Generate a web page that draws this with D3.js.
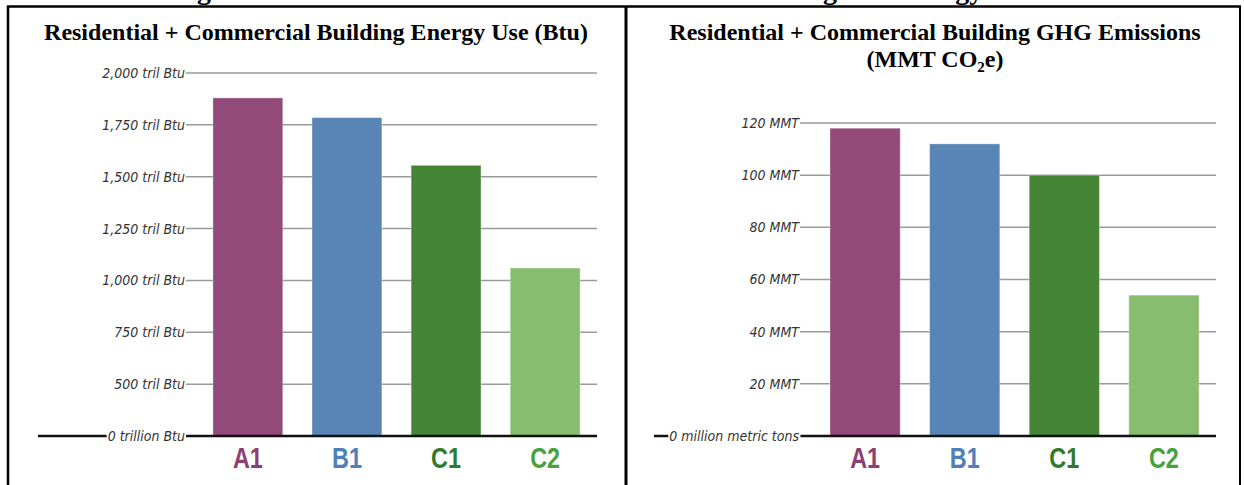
<!DOCTYPE html>
<html><head><meta charset="utf-8">
<script src="https://cdn.jsdelivr.net/npm/d3@7"></script>
<style>
html,body{margin:0;padding:0;background:#fff;}
svg{display:block;}
</style></head>
<body><svg id="c" width="1244" height="485"></svg>
<script>
// ---- data ----
const categories = ["A1", "B1", "C1", "C2"];
const energyValues = [1880, 1785, 1555, 1060];          // trillion Btu
const emissionValues = [118, 112, 100, 54];             // MMT CO2e
const energyTicks = [0, 500, 750, 1000, 1250, 1500, 1750, 2000];
const energyTickLabels = ["0 trillion Btu", "500 tril Btu", "750 tril Btu", "1,000 tril Btu", "1,250 tril Btu", "1,500 tril Btu", "1,750 tril Btu", "2,000 tril Btu"];
const emissionTicks = [0, 20, 40, 60, 80, 100, 120];
const emissionTickLabels = ["0 million metric tons", "20 MMT", "40 MMT", "60 MMT", "80 MMT", "100 MMT", "120 MMT"];
const barColors = ["#924a78", "#5885b6", "#438535", "#88bc6e"];
const labelColors = ["#8d3f73", "#4f80b7", "#2f7a2b", "#48a23c"];
const leftTitle = "Residential + Commercial Building Energy Use (Btu)";
const rightTitle1 = "Residential + Commercial Building GHG Emissions";
const pageHeading = "Figure 6: Scenario Results for the Commercial Building and Energy Sectors";

const svg = d3.select("#c");

// clipped page heading above the frame (cut off in the original too)
svg.append("text").attr("x", 172).attr("y", -1)
  .attr("font-family", "Liberation Serif, serif").attr("font-weight", "bold")
  .attr("font-size", 28).attr("fill", "#000").text(pageHeading);

// frame
const frame = svg.append("g").attr("stroke", "#000").attr("fill", "none");
frame.append("line").attr("x1", 7).attr("x2", 1241).attr("y1", 6.5).attr("y2", 6.5).attr("stroke-width", 2.5);
frame.append("line").attr("x1", 8).attr("x2", 8).attr("y1", 6).attr("y2", 485).attr("stroke-width", 2.5);
frame.append("line").attr("x1", 626).attr("x2", 626).attr("y1", 6).attr("y2", 485).attr("stroke-width", 3);
frame.append("line").attr("x1", 1240).attr("x2", 1240).attr("y1", 6).attr("y2", 485).attr("stroke-width", 2);

function panel(opts) {
  const g = svg.append("g");
  const x = d3.scaleBand().domain(categories).range(opts.xRange)
    .paddingInner(0.295).paddingOuter(0.1475);
  const y = opts.y;

  // gridlines
  g.selectAll("line.grid").data(opts.ticks.slice(1)).join("line")
    .attr("class", "grid")
    .attr("x1", opts.gridLeft).attr("x2", opts.gridRight)
    .attr("y1", d => y(d)).attr("y2", d => y(d))
    .attr("stroke", "#9a9a9a").attr("stroke-width", 1.5);

  // bars
  g.selectAll("rect.bar").data(opts.values).join("rect")
    .attr("class", "bar")
    .attr("x", (d, i) => x(categories[i]))
    .attr("width", x.bandwidth())
    .attr("y", d => y(d))
    .attr("height", d => y(0) - y(d))
    .attr("fill", (d, i) => barColors[i])
    .attr("stroke", "rgba(255,255,255,0.35)").attr("stroke-width", 1);

  // baseline
  g.append("line")
    .attr("x1", opts.baseLeft).attr("x2", opts.gridRight)
    .attr("y1", y(0)).attr("y2", y(0))
    .attr("stroke", "#111").attr("stroke-width", 2.5);

  // tick labels
  const lab = g.selectAll("g.tick").data(opts.ticks).join("g").attr("class", "tick");
  lab.append("text")
    .attr("x", opts.gridLeft - 1).attr("y", d => y(d)).attr("dy", "0.35em")
    .attr("text-anchor", "end")
    .attr("font-family", "DejaVu Sans Condensed, Liberation Sans, sans-serif")
    .attr("font-stretch", "condensed")
    .attr("font-style", "italic").attr("font-size", 14).attr("fill", "#333")
    .text((d, i) => opts.tickLabels[i]);
  // white backing for the zero label
  lab.filter(d => d === 0).each(function () {
    const t = d3.select(this).select("text");
    const bb = t.node().getBBox();
    d3.select(this).insert("rect", "text")
      .attr("x", bb.x - 1).attr("y", bb.y).attr("width", bb.width + 2).attr("height", bb.height)
      .attr("fill", "#fff");
  });

  // category labels (tall, condensed)
  g.selectAll("text.cat").data(categories).join("text")
    .attr("class", "cat")
    .attr("transform", d => `translate(${x(d) + x.bandwidth() / 2},468) scale(0.78,1)`)
    .attr("text-anchor", "middle")
    .attr("font-family", "Liberation Sans, Arial, sans-serif")
    .attr("font-weight", "bold").attr("font-size", 30)
    .attr("fill", (d, i) => labelColors[i])
    .text(d => d);
}

panel({
  xRange: [198.3, 594.7],
  y: d3.scaleLinear().domain([0, 500, 2000]).range([436, 384.2, 73]),
  ticks: energyTicks, tickLabels: energyTickLabels, values: energyValues,
  gridLeft: 186, gridRight: 597, baseLeft: 38
});
panel({
  xRange: [815.3, 1213.7],
  y: d3.scaleLinear().domain([0, 120]).range([436, 123]),
  ticks: emissionTicks, tickLabels: emissionTickLabels, values: emissionValues,
  gridLeft: 800, gridRight: 1216, baseLeft: 654
});

// titles
const tf = "Liberation Serif, Times New Roman, serif";
svg.append("text").attr("x", 316).attr("y", 40).attr("text-anchor", "middle")
  .attr("font-family", tf).attr("font-weight", "bold").attr("font-size", 24).text(leftTitle);
svg.append("text").attr("x", 935).attr("y", 40).attr("text-anchor", "middle")
  .attr("font-family", tf).attr("font-weight", "bold").attr("font-size", 24).text(rightTitle1);
const t2 = svg.append("text").attr("x", 935).attr("y", 67).attr("text-anchor", "middle")
  .attr("font-family", tf).attr("font-weight", "bold").attr("font-size", 24);
t2.append("tspan").text("(MMT CO");
t2.append("tspan").attr("font-size", 15).attr("dy", 5).text("2");
t2.append("tspan").attr("dy", -5).text("e)");
</script>
</body></html>
